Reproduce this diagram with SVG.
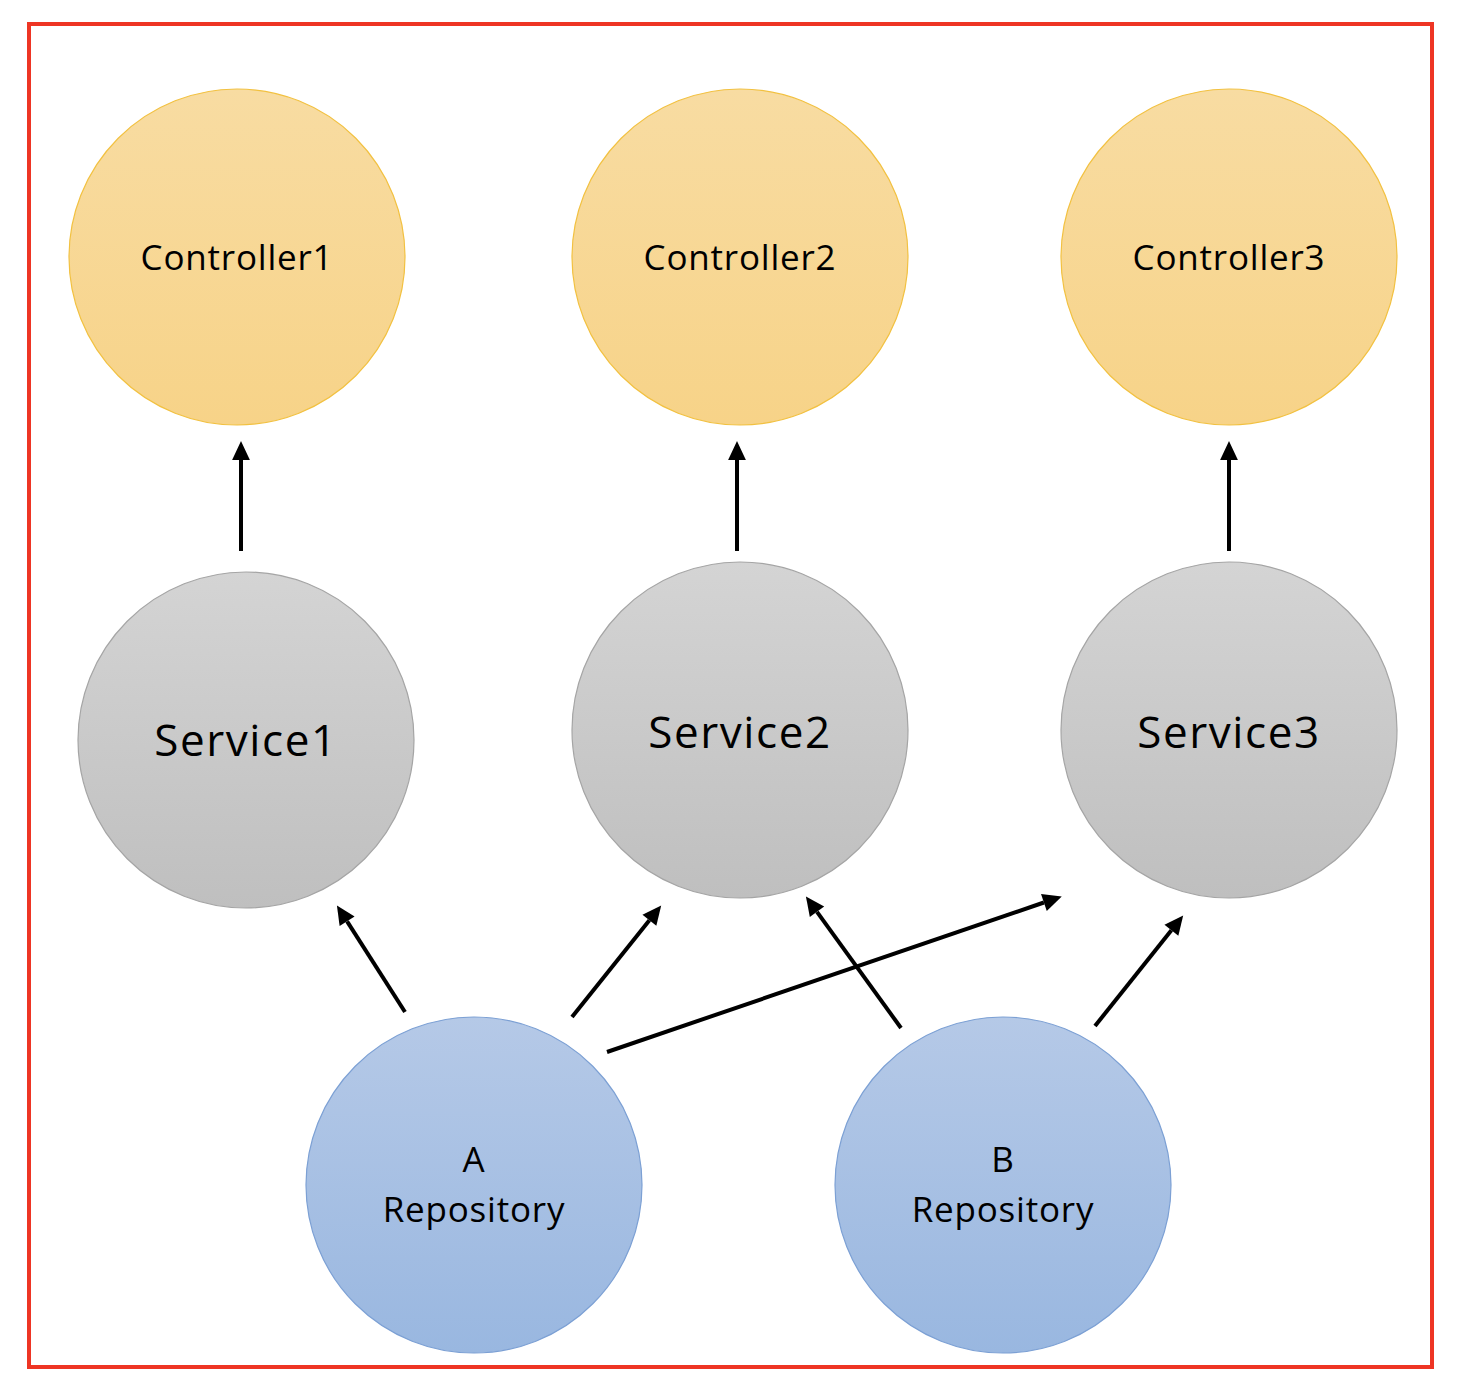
<svg xmlns="http://www.w3.org/2000/svg" width="1468" height="1380" viewBox="0 0 1468 1380">
<style>
.ctl{fill:url(#gY);stroke:#F2C141;stroke-width:1.2}
.svc{fill:url(#gG);stroke:#A5A5A5;stroke-width:1.2}
.rep{fill:url(#gB);stroke:#7CA0D4;stroke-width:1.2}
text{font-family:"Open Sans","Noto Sans","Liberation Sans",sans-serif;fill:#000;text-anchor:middle}
.t36{font-size:35px;letter-spacing:0.8px}
.t44{font-size:44px;letter-spacing:1.6px}
.conn line{stroke:#000;stroke-width:4;marker-end:url(#ah)}
</style>
<defs>
<linearGradient id="gY" x1="0" y1="0" x2="0" y2="1"><stop offset="0" stop-color="#F8DCA2"/><stop offset="1" stop-color="#F7D388"/></linearGradient>
<linearGradient id="gG" x1="0" y1="0" x2="0" y2="1"><stop offset="0" stop-color="#D4D4D4"/><stop offset="1" stop-color="#BFBFBF"/></linearGradient>
<linearGradient id="gB" x1="0" y1="0" x2="0" y2="1"><stop offset="0" stop-color="#B5C9E7"/><stop offset="1" stop-color="#99B7E0"/></linearGradient>
<marker id="ah" markerUnits="userSpaceOnUse" markerWidth="20" markerHeight="20" viewBox="0 -9 18 18" refX="0" refY="0" orient="auto" overflow="visible"><path d="M0,-8 L17,0 L0,8 z" fill="#000"/></marker>
</defs>
<rect x="29" y="24" width="1403" height="1343" fill="#fff" stroke="#EE3524" stroke-width="4"/>
<g id="controller1"><circle class="ctl" cx="237" cy="257" r="168"/><text class="t36" x="237" y="270">Controller1</text></g>
<g id="controller2"><circle class="ctl" cx="740" cy="257" r="168"/><text class="t36" x="740" y="270">Controller2</text></g>
<g id="controller3"><circle class="ctl" cx="1229" cy="257" r="168"/><text class="t36" x="1229" y="270">Controller3</text></g>
<g id="service1"><circle class="svc" cx="246" cy="740" r="168"/><text class="t44" x="246" y="756">Service1</text></g>
<g id="service2"><circle class="svc" cx="740" cy="730" r="168"/><text class="t44" x="740" y="748">Service2</text></g>
<g id="service3"><circle class="svc" cx="1229" cy="730" r="168"/><text class="t44" x="1229" y="748">Service3</text></g>
<g id="repoA"><circle class="rep" cx="474" cy="1185" r="168"/><text class="t36" x="474" y="1172">A</text><text class="t36" x="474" y="1222">Repository</text></g>
<g id="repoB"><circle class="rep" cx="1003" cy="1185" r="168"/><text class="t36" x="1003" y="1172">B</text><text class="t36" x="1003" y="1222">Repository</text></g>
<g id="connectors" class="conn">
<line x1="241" y1="551" x2="241" y2="460"/>
<line x1="737" y1="551" x2="737" y2="460"/>
<line x1="1229" y1="551" x2="1229" y2="460"/>
<line x1="405" y1="1012" x2="347.1" y2="921.3"/>
<line x1="572" y1="1017" x2="649.4" y2="920.3"/>
<line x1="607" y1="1052" x2="1043.9" y2="902.5"/>
<line x1="901" y1="1028" x2="817" y2="911.8"/>
<line x1="1095" y1="1026" x2="1171.4" y2="930.3"/>
</g>
</svg>
